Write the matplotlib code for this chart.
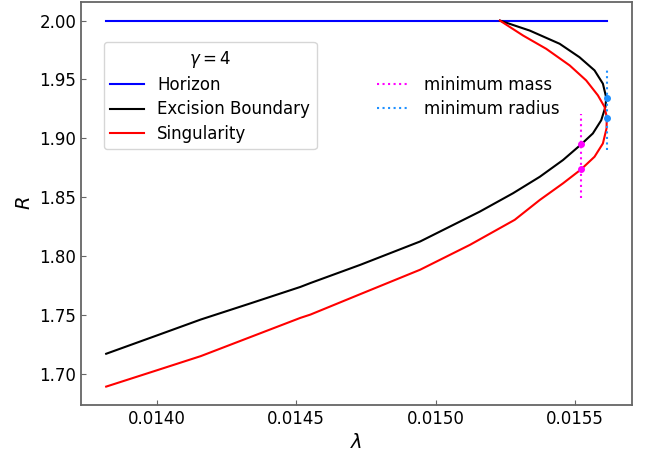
import matplotlib
matplotlib.use('Agg')
import matplotlib.pyplot as plt

# Horizon (R = 2 along the whole lambda range)
horizon_lam = [0.013819, 0.015614]
horizon_R = [2.0, 2.0]

# Excision boundary, from the lower-left end round the turning point to the top
excision_lam = [0.013819, 0.014000, 0.014158, 0.014337, 0.014515, 0.014551,
                0.014730, 0.014944, 0.015158, 0.015277, 0.015373, 0.015456,
                0.015521, 0.015563, 0.015593, 0.015608, 0.015611, 0.015599,
                0.015569, 0.015515, 0.015444, 0.015337, 0.015230]
excision_R = [1.7169, 1.7324, 1.7460, 1.7598, 1.7737, 1.7770,
              1.7925, 1.8123, 1.8377, 1.8533, 1.8673, 1.8815,
              1.8948, 1.9041, 1.9153, 1.9266, 1.9345, 1.9464,
              1.9577, 1.9689, 1.9803, 1.9915, 2.0000]

# Singularity
sing_lam = [0.013819, 0.014000, 0.014158, 0.014337, 0.014515, 0.014551,
            0.014730, 0.014944, 0.015123, 0.015283, 0.015373, 0.015456,
            0.015521, 0.015569, 0.015599, 0.015612, 0.015613, 0.015605,
            0.015581, 0.015539, 0.015480, 0.015396, 0.015313, 0.015230]
sing_R = [1.6890, 1.7028, 1.7149, 1.7312, 1.7474, 1.7502,
          1.7676, 1.7883, 1.8095, 1.8307, 1.8476, 1.8617,
          1.8736, 1.8843, 1.8956, 1.9083, 1.9176, 1.9266,
          1.9365, 1.9492, 1.9619, 1.9760, 1.9873, 2.0000]

# Minimum mass / minimum radius markers
min_mass_lam = 0.015521
min_mass_R = [1.8948, 1.8736]
min_mass_span = [1.849, 1.921]
min_rad_lam = 0.015612
min_rad_R = [1.9345, 1.9176]
min_rad_span = [1.890, 1.960]

plt.rcParams['font.size'] = 12

fig, ax = plt.subplots(figsize=(6.49, 4.57), dpi=100)
fig.subplots_adjust(left=0.125, right=0.974, top=0.995, bottom=0.114)

l1, = ax.plot(horizon_lam, horizon_R, color='blue', lw=1.5, label='Horizon')
l2, = ax.plot(excision_lam, excision_R, color='black', lw=1.5, label='Excision Boundary')
l3, = ax.plot(sing_lam, sing_R, color='red', lw=1.5, label='Singularity')

m1, = ax.plot([min_mass_lam, min_mass_lam], min_mass_span, ':', color='magenta',
              lw=1.5, label='minimum mass')
m2, = ax.plot([min_rad_lam, min_rad_lam], min_rad_span, ':', color='dodgerblue',
              lw=1.5, label='minimum radius')
ax.plot([min_mass_lam] * 2, min_mass_R, 'o', color='magenta', ms=4)
ax.plot([min_rad_lam] * 2, min_rad_R, 'o', color='dodgerblue', ms=4)

leg1 = ax.legend(handles=[l1, l2, l3], title=r'$\gamma = 4$', loc='upper left',
                 bbox_to_anchor=(0.026, 0.922), fontsize=12, title_fontsize=12,
                 labelspacing=0.38)
ax.add_artist(leg1)
ax.legend(handles=[m1, m2], loc='upper left', bbox_to_anchor=(0.51, 0.855),
          frameon=False, fontsize=12, labelspacing=0.38)

ax.set_xlabel(r'$\lambda$', fontsize=14)
ax.set_ylabel(r'$R$', fontsize=14)
ax.set_xticks([0.0140, 0.0145, 0.0150, 0.0155])
ax.set_xticklabels(['0.0140', '0.0145', '0.0150', '0.0155'])
ax.set_yticks([1.70, 1.75, 1.80, 1.85, 1.90, 1.95, 2.00])
ax.set_yticklabels(['1.70', '1.75', '1.80', '1.85', '1.90', '1.95', '2.00'])
ax.tick_params(direction='in', labelsize=12, color='0.4')
for s in ax.spines.values():
    s.set_color('0.4')
    s.set_linewidth(1.3)

plt.savefig('out.png', dpi=100)
